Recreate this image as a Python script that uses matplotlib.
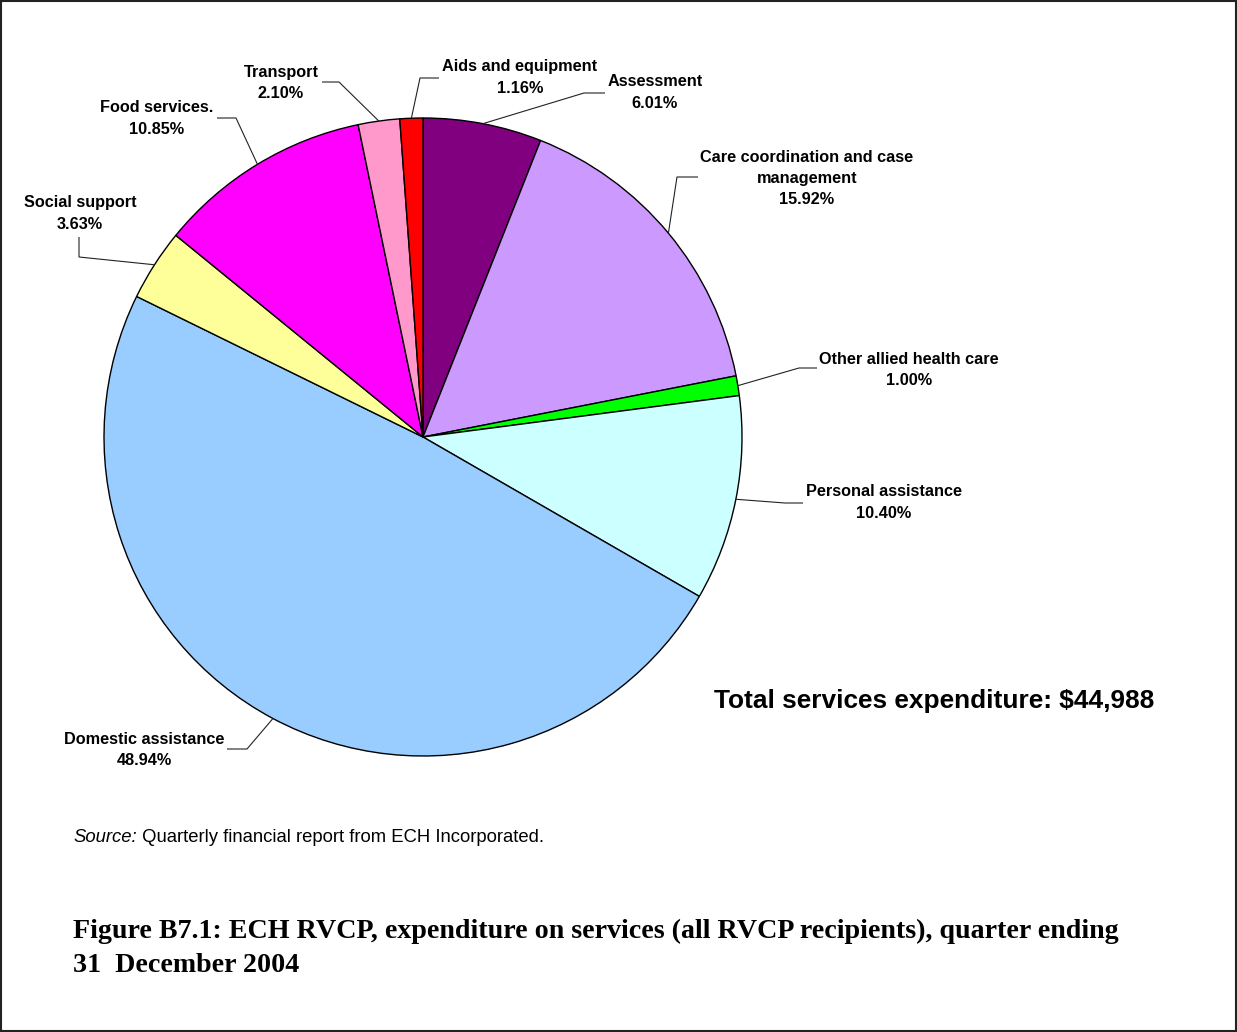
import matplotlib
matplotlib.use('Agg')
import matplotlib.pyplot as plt
from matplotlib.patches import Rectangle
import numpy as np

# Expenditure shares by service type (per cent), clockwise from 12 o'clock
categories = ['Assessment', 'Care coordination and case\nmanagement',
              'Other allied health care', 'Personal assistance',
              'Domestic assistance', 'Social support', 'Food services.',
              'Transport', 'Aids and equipment']
shares = [6.01, 15.92, 1.00, 10.40, 48.94, 3.63, 10.85, 2.10, 1.16]
colours = ['#800080', '#CC99FF', '#00FF00', '#CCFFFF', '#99CCFF',
           '#FFFF99', '#FF00FF', '#FF99CC', '#FF0000']
total_expenditure = 44988

W, H = 1237, 1032
CX, CY, R = 423, 437, 319  # pie centre / radius in pixels (y from top)

# label layout (pixels from top-left): text centre x / first line y,
# leader elbow and leader end next to the text
label_pos = [(655, 82), (807, 157), (909, 359), (884, 492), (144, 739),
             (80, 203), (157, 108), (281, 72), (520, 67)]
leader_elbow = [(584, 93), (677, 177), (799, 368), (785, 503), (247, 749),
                (79, 257), (236, 118), (339, 82), (420, 78)]
leader_end = [(605, 93), (698, 177), (817, 368), (803, 503), (227, 749),
              (79, 237), (217, 118), (322, 82), (439, 78)]

LABEL_FONT = 'Liberation Sans'
LINE_STEP = 21.3


def fy(y):
    # flip a top-down pixel y into axes data y
    return H - y


fig = plt.figure(figsize=(W / 100, H / 100), dpi=100)
ax = fig.add_axes([0, 0, 1, 1])

wedges, _ = ax.pie(shares, colors=colours, startangle=90, counterclock=False,
                   center=(CX, fy(CY)), radius=R,
                   wedgeprops=dict(edgecolor='black', linewidth=1.0))
ax.set_xlim(0, W)
ax.set_ylim(0, H)
ax.set_aspect('equal')
ax.axis('off')

for w, name, val, (tx, ty), elbow, end in zip(wedges, categories, shares,
                                              label_pos, leader_elbow, leader_end):
    mid = np.deg2rad((w.theta1 + w.theta2) / 2)
    ex = CX + R * np.cos(mid)
    ey = fy(CY) + R * np.sin(mid)
    ax.plot([ex, elbow[0], end[0]], [ey, fy(elbow[1]), fy(end[1])],
            color='#222222', lw=0.8, solid_capstyle='butt')
    lines = name.split('\n') + [f'{val:.2f}%']
    for i, line in enumerate(lines):
        ax.text(tx, fy(ty + i * LINE_STEP), line, ha='center', va='center',
                fontsize=11.7, fontweight='bold', family=LABEL_FONT)

ax.text(714, fy(701), f'Total services expenditure: ${total_expenditure:,}',
        ha='left', va='center', fontsize=18.9, fontweight='bold', family=LABEL_FONT)

src = ax.text(73, fy(838), 'Source:', style='italic', fontsize=13.3,
              family=LABEL_FONT, va='center', ha='left')
ax.annotate(' Quarterly financial report from ECH Incorporated.', xy=(1, 0),
            xycoords=src, va='bottom', ha='left', fontsize=13.3, family=LABEL_FONT)

caption = ['Figure B7.1: ECH RVCP, expenditure on services (all RVCP recipients), quarter ending',
           '31  December 2004']
for i, line in enumerate(caption):
    ax.text(73, fy(931 + i * 35), line, ha='left', va='center', fontsize=20.2,
            fontweight='bold', family='Liberation Serif')

ax.add_patch(Rectangle((1, 1), W - 2, H - 2, fill=False, edgecolor='#222222',
                       lw=1.5, clip_on=False))

fig.savefig('out.png', dpi=100)
